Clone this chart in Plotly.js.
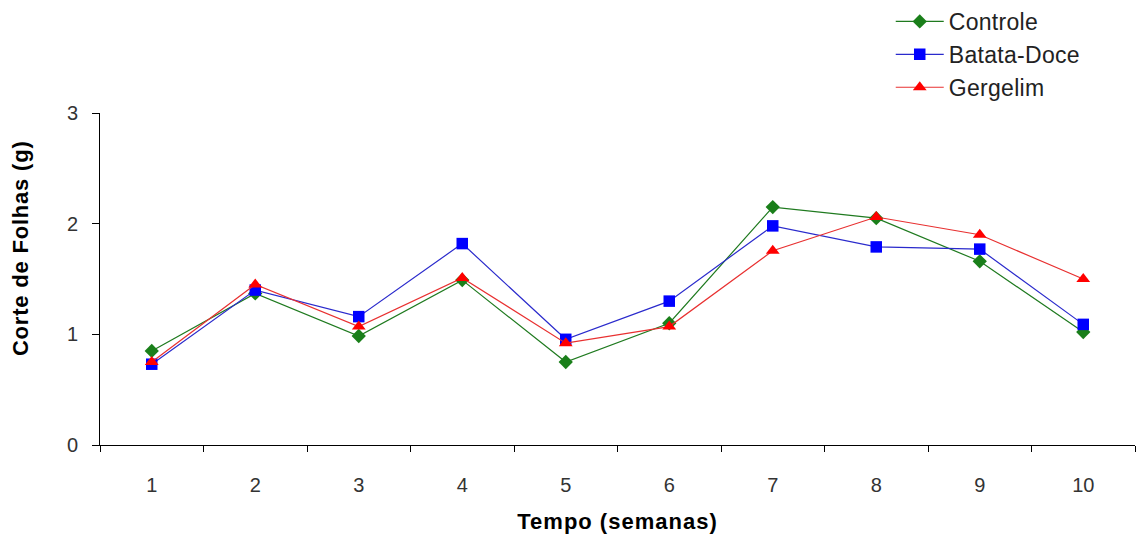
<!DOCTYPE html>
<html><head><meta charset="utf-8">
<script src="https://cdn.plot.ly/plotly-3.0.1.min.js"></script>
<style>html,body{margin:0;padding:0;background:#fff}#chart{width:1138px;height:540px}
.xtitle{letter-spacing:1px}.annotation-text{letter-spacing:0.8px}.legendtext{letter-spacing:0.3px}</style>
</head><body><div id="chart"></div>
<script>
const semanas = ['1','2','3','4','5','6','7','8','9','10'];
const controle = [0.85, 1.37, 0.985, 1.49, 0.75, 1.10, 2.15, 2.05, 1.66, 1.02];
const batataDoce = [0.73, 1.40, 1.16, 1.82, 0.955, 1.30, 1.98, 1.79, 1.77, 1.09];
const gergelim = [0.75, 1.45, 1.07, 1.51, 0.92, 1.07, 1.755, 2.06, 1.90, 1.50];
const yTicks = [0, 1, 2, 3];

const traces = [
  {x: semanas, y: controle, name: 'Controle', legendgroup: 'a', mode: 'lines+markers', type: 'scatter',
   line: {color: '#1f7a1f', width: 1.2}, marker: {symbol: 'diamond', size: 11, color: '#1a7f1a'}},
  {x: semanas, y: batataDoce, name: 'Batata-Doce', legendgroup: 'b', mode: 'lines+markers', type: 'scatter',
   line: {color: '#2a2acc', width: 1.2}, marker: {symbol: 'square', size: 11.5, color: '#0000ff'}},
  {x: semanas, y: gergelim, name: 'Gergelim', legendgroup: 'c', mode: 'lines+markers', type: 'scatter',
   line: {color: '#e83030', width: 1.2}, marker: {symbol: 'triangle-up', size: 12, color: '#ff0000'}}
];

const layout = {
  width: 1138, height: 540,
  margin: {l: 100, r: 3, t: 113, b: 95},
  paper_bgcolor: '#fff', plot_bgcolor: '#fff',
  font: {family: 'Liberation Sans, Arial, sans-serif', color: '#222', size: 20},
  showlegend: true,
  legend: {x: 0.764, y: 1, yref: 'container', xanchor: 'left', yanchor: 'top', bgcolor: 'rgba(0,0,0,0)',
    font: {size: 23, color: '#222'}, traceorder: 'grouped', tracegroupgap: 0, itemwidth: 48},
  xaxis: {type: 'category', tickson: 'boundaries', range: [-0.5, 9.5],
    showline: true, linecolor: '#000', linewidth: 1, showgrid: false, zeroline: false,
    ticks: 'outside', ticklen: 6, tickcolor: '#000', ticklabelstandoff: 22,
    tickfont: {size: 20, color: '#333'},
    title: {text: '<b>Tempo (semanas)</b>', font: {size: 22, color: '#000'}, standoff: 18}},
  yaxis: {range: [0, 3], tickvals: yTicks, ticktext: yTicks.map(String),
    showline: true, linecolor: '#000', linewidth: 1, showgrid: false, zeroline: false,
    ticks: 'outside', ticklen: 7, tickcolor: '#000', ticklabelstandoff: 10,
    tickfont: {size: 20, color: '#333'}},
  annotations: [{text: '<b>Corte de Folhas (g)</b>', textangle: -90, showarrow: false,
    xref: 'paper', yref: 'paper', x: -0.0773, y: 0.593, xanchor: 'center', yanchor: 'middle',
    font: {size: 22, color: '#000'}}]
};

Plotly.newPlot('chart', traces, layout, {displayModeBar: false, staticPlot: true});
</script>
</body></html>
